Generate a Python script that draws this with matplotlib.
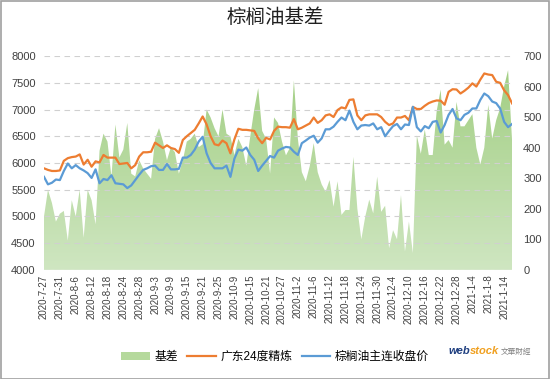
import matplotlib
matplotlib.use("Agg")
import matplotlib.pyplot as plt
import numpy as np
from matplotlib.colors import LinearSegmentedColormap
from matplotlib.patches import Patch, Rectangle
from matplotlib.lines import Line2D

plt.rcParams['font.family'] = ['Liberation Sans', 'Noto Sans CJK SC']

# ================================
# Data
# ================================
tick_labels = ["2020-7-27", "2020-7-31", "2020-8-6", "2020-8-12", "2020-8-18",
               "2020-8-24", "2020-8-28", "2020-9-3", "2020-9-9", "2020-9-15",
               "2020-9-21", "2020-9-25", "2020-10-9", "2020-10-15", "2020-10-21",
               "2020-10-27", "2020-11-2", "2020-11-6", "2020-11-12", "2020-11-18",
               "2020-11-24", "2020-11-30", "2020-12-4", "2020-12-10", "2020-12-16",
               "2020-12-22", "2020-12-28", "2021-1-4", "2021-1-8", "2021-1-14"]

# 广东24度精炼
guangdong = [5900, 5870, 5850, 5850, 5860, 6040, 6090, 6110, 6120, 6160,
             5970, 6060, 5930, 6030, 6010, 6150, 6100, 6100, 6100, 5980,
             5990, 6000, 5900, 5960, 6120, 6200, 6200, 6210, 6380, 6330,
             6280, 6330, 6280, 6260, 6190, 6430, 6500, 6560, 6620, 6740,
             6870, 6720, 6500, 6350, 6330, 6420, 6370, 6180, 6440, 6640,
             6620, 6620, 6610, 6600, 6460, 6370, 6470, 6440, 6600, 6680,
             6670, 6670, 6660, 6820, 6630, 6660, 6700, 6740, 6850, 6750,
             6800, 6890, 6910, 6860, 6990, 7040, 7020, 7180, 7190, 6890,
             6800, 6890, 6910, 6910, 6910, 6860, 6770, 6710, 6740, 6850,
             6850, 6880, 6800, 7050, 7010, 7010, 7070, 7120, 7150, 7170,
             7165, 7090, 7330, 7380, 7375, 7300, 7350, 7410, 7490, 7430,
             7560, 7675, 7655, 7645, 7520, 7500, 7360, 7270, 7115]

# 棕榈油主连收盘价
futures = [5740, 5600, 5630, 5690, 5680, 5850, 5990, 5900, 5960, 5900,
           5860, 5810, 5720, 5880, 5620, 5700, 5680, 5770, 5620, 5610,
           5600, 5530, 5580, 5680, 5780, 5870, 5900, 5940, 5950, 5870,
           5870, 5980, 5880, 5880, 5890, 6100, 6100, 6150, 6250, 6400,
           6490, 6180, 6000, 5900, 5900, 5900, 5950, 5740, 6080, 6250,
           6230, 6290, 6150, 6060, 5850, 5950, 6040, 6130, 6100, 6230,
           6270, 6300, 6290, 6210, 6150, 6370, 6420, 6475, 6510, 6380,
           6460, 6630, 6630, 6680, 6770, 6850, 6800, 6980, 6770, 6630,
           6700, 6710, 6700, 6740, 6630, 6670, 6500, 6600, 6690, 6730,
           6630, 6720, 6710, 7050, 6670, 6590, 6690, 6650, 6770, 6785,
           6570, 6710, 6900, 7010, 6835, 6800, 6900, 6940, 7020, 7020,
           7180, 7300, 7250, 7150, 7120, 7020, 6770, 6670, 6730]

# 基差 (right axis)
basis = [175, 262, 219, 158, 184, 193, 96, 228, 175, 262,
         105, 262, 228, 149, 390, 446, 420, 306, 476, 368,
         394, 481, 315, 306, 359, 332, 315, 298, 429, 464,
         420, 359, 402, 385, 315, 359, 420, 429, 446, 402,
         411, 525, 499, 464, 437, 525, 446, 437, 376, 429,
         402, 341, 437, 525, 595, 455, 429, 315, 499, 481,
         420, 375, 400, 620, 430, 320, 290, 340, 415, 320,
         280, 256, 294, 207, 290, 180, 196, 196, 370, 200,
         100, 175, 230, 185, 305, 190, 210, 71, 130, 100,
         245, 60, 158, 55, 440, 380, 460, 376, 376, 520,
         590, 410, 425, 400, 550, 470, 470, 490, 510, 400,
         345, 400, 540, 430, 490, 530, 600, 654, 425]

x = np.arange(len(basis))
n_last = len(basis) - 1

# ================================
# Figure
# ================================
fig = plt.figure(figsize=(5.5, 3.79), dpi=100)
ax = fig.add_axes([0.08, 0.288, 0.851, 0.564])   # basis (right scale)
ax2 = ax.twinx()                                   # prices (left scale)

# swap sides so the area sits behind the lines
ax.yaxis.tick_right()
ax2.yaxis.tick_left()

# gradient area
fill = ax.fill_between(x, 0, basis, facecolor="none", edgecolor="none")
cmap = LinearSegmentedColormap.from_list("green_grad", ["#cfe6c1", "#9fcd7f"])
grad = np.linspace(0, 1, 256).reshape(-1, 1)
img = ax.imshow(grad, extent=[0, n_last, 0, 700], origin="lower",
                aspect="auto", cmap=cmap, zorder=1)
img.set_clip_path(fill.get_paths()[0], transform=ax.transData)

ax.set_ylim(0, 700)
ax.set_yticks(np.arange(0, 701, 100))
ax.set_xlim(0, n_last)

# price lines
ax2.plot(x, guangdong, color="#ed7d31", lw=1.6, zorder=3)
ax2.plot(x, futures, color="#5b9bd5", lw=1.6, zorder=3)
ax2.set_ylim(4000, 8000)
ax2.set_yticks(np.arange(4000, 8001, 500))
ax2.set_xlim(0, n_last)

# grid from the left scale
ax2.grid(axis="y", color="#d0d0d0", linestyle=(0, (5, 4)), lw=0.8)
ax2.set_axisbelow(True)
ax.set_zorder(0)
ax2.set_zorder(1)
ax2.patch.set_visible(False)

for a in (ax, ax2):
    for s in a.spines.values():
        s.set_visible(False)
    a.tick_params(length=0, labelsize=8, colors="#404040")

ax.set_xticks(x[::4])
ax.set_xticklabels(tick_labels, rotation=90, fontsize=7, color="#404040")
ax2.tick_params(axis="x", bottom=False, labelbottom=False)
ax.tick_params(axis="y", pad=8)
ax2.tick_params(axis="y", pad=6)

fig.text(0.5, 0.952, "棕榈油基差", ha="center", va="center", fontsize=14,
         color="#202020")

# legend
handles = [Patch(facecolor="#b5d99c", edgecolor="none"),
           Line2D([0], [0], color="#ed7d31", lw=1.6),
           Line2D([0], [0], color="#5b9bd5", lw=1.6)]
fig.legend(handles, ["基差", "广东24度精炼", "棕榈油主连收盘价"],
           loc="center", bbox_to_anchor=(0.5, 0.058), ncol=3, frameon=False,
           fontsize=8.5, handlelength=2.4, handleheight=0.7,
           columnspacing=0.8, handletextpad=0.4)

# watermark
fig.text(0.855, 0.075, "web", color="#1f3f80", fontsize=8, fontweight="bold",
         style="italic", ha="right", va="center")
fig.text(0.855, 0.075, "stock", color="#f0a020", fontsize=8, fontweight="bold",
         style="italic", ha="left", va="center")
fig.text(0.965, 0.07, "文華財經", color="#808080", fontsize=5.5,
         ha="right", va="center")

# frame around the whole chart
fig.patches.append(Rectangle((0.001, 0.001), 0.997, 0.996, transform=fig.transFigure,
                             fill=False, edgecolor="#a0a0a0", lw=1.2))

fig.savefig("out.png", dpi=100)
